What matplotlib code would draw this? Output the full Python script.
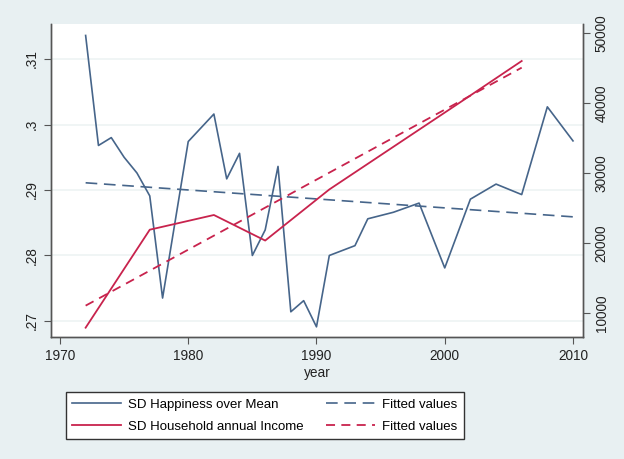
import matplotlib
matplotlib.use('Agg')
import matplotlib.pyplot as plt

# SD of happiness over mean (left axis)
hap_years = [1972, 1973, 1974, 1975, 1976, 1977, 1978, 1980, 1982, 1983, 1984,
             1985, 1986, 1987, 1988, 1989, 1990, 1991, 1993, 1994, 1996, 1998,
             2000, 2002, 2004, 2006, 2008, 2010]
hap_sd = [.3136, .2968, .2980, .2950, .2926, .2891, .2735, .2974, .3016, .2917,
          .2956, .2800, .2839, .2936, .2714, .2731, .2691, .2800, .2815, .2856,
          .2866, .2880, .2781, .2886, .2909, .2893, .3027, .2975]
hap_fit_years = [1972, 2010]
hap_fit = [.2911, .2859]

# SD of household annual income (right axis)
inc_years = [1972, 1977, 1982, 1986, 1991, 1996, 2001, 2006]
inc_sd = [7900, 21900, 24000, 20350, 27650, 33750, 39850, 46000]
inc_fit_years = [1972, 2006]
inc_fit = [11050, 45050]

left_ticks = [.27, .28, .29, .30, .31]
left_labels = ['.27', '.28', '.29', '.3', '.31']
right_ticks = [10000, 20000, 30000, 40000, 50000]
x_ticks = [1970, 1980, 1990, 2000, 2010]

blue = '#46658a'
red = '#c8234d'
bg = '#e8f0f2'

plt.rcParams['font.family'] = ['Liberation Sans', 'DejaVu Sans']
plt.rcParams['font.size'] = 9.8

fig = plt.figure(figsize=(6.24, 4.59), dpi=100, facecolor=bg)
ax = fig.add_axes([51 / 624, 1 - 337 / 459, 532 / 624, 313 / 459])
ax2 = ax.twinx()

l1, = ax.plot(hap_years, hap_sd, color=blue, lw=1.2)
l2, = ax.plot(hap_fit_years, hap_fit, color=blue, lw=1.2, dashes=(7, 4))
l3, = ax2.plot(inc_years, inc_sd, color=red, lw=1.3)
l4, = ax2.plot(inc_fit_years, inc_fit, color=red, lw=1.3, dashes=(5, 3.5))

ax.set_xlim(1969.3, 2010.78)
ax.set_ylim(.26755, .31535)
ax2.set_ylim(6571, 51286)

ax.set_xticks(x_ticks)
ax.set_yticks(left_ticks)
ax.set_yticklabels(left_labels, rotation=90, va='center')
ax2.set_yticks(right_ticks)
ax2.set_yticklabels([str(t) for t in right_ticks], rotation=90, va='center')

ax.grid(axis='y', color='#edf3f4', lw=1.2)
ax.set_axisbelow(True)
ax.set_xlabel('year', labelpad=2, color='#222222')

for a in (ax, ax2):
    a.spines['top'].set_visible(False)
    for s in ('left', 'right', 'bottom'):
        a.spines[s].set_color('#555555')
        a.spines[s].set_linewidth(1.0)
    a.tick_params(direction='out', length=5, color='#555555', labelcolor='#222222')

leg = fig.legend([l1, l3, l2, l4],
                 ['SD Happiness over Mean', 'SD Household annual Income',
                  'Fitted values', 'Fitted values'],
                 ncol=2, loc='center', bbox_to_anchor=(265 / 624, 1 - 415.5 / 459),
                 fancybox=False, edgecolor='#333333', framealpha=1,
                 prop={'size': 9.5},
                 handlelength=3.7, columnspacing=1.7, handletextpad=0.55,
                 labelspacing=0.75, borderpad=0.5, borderaxespad=0)
leg.get_frame().set_linewidth(1.0)

fig.savefig('out.png', dpi=100, facecolor=bg)
